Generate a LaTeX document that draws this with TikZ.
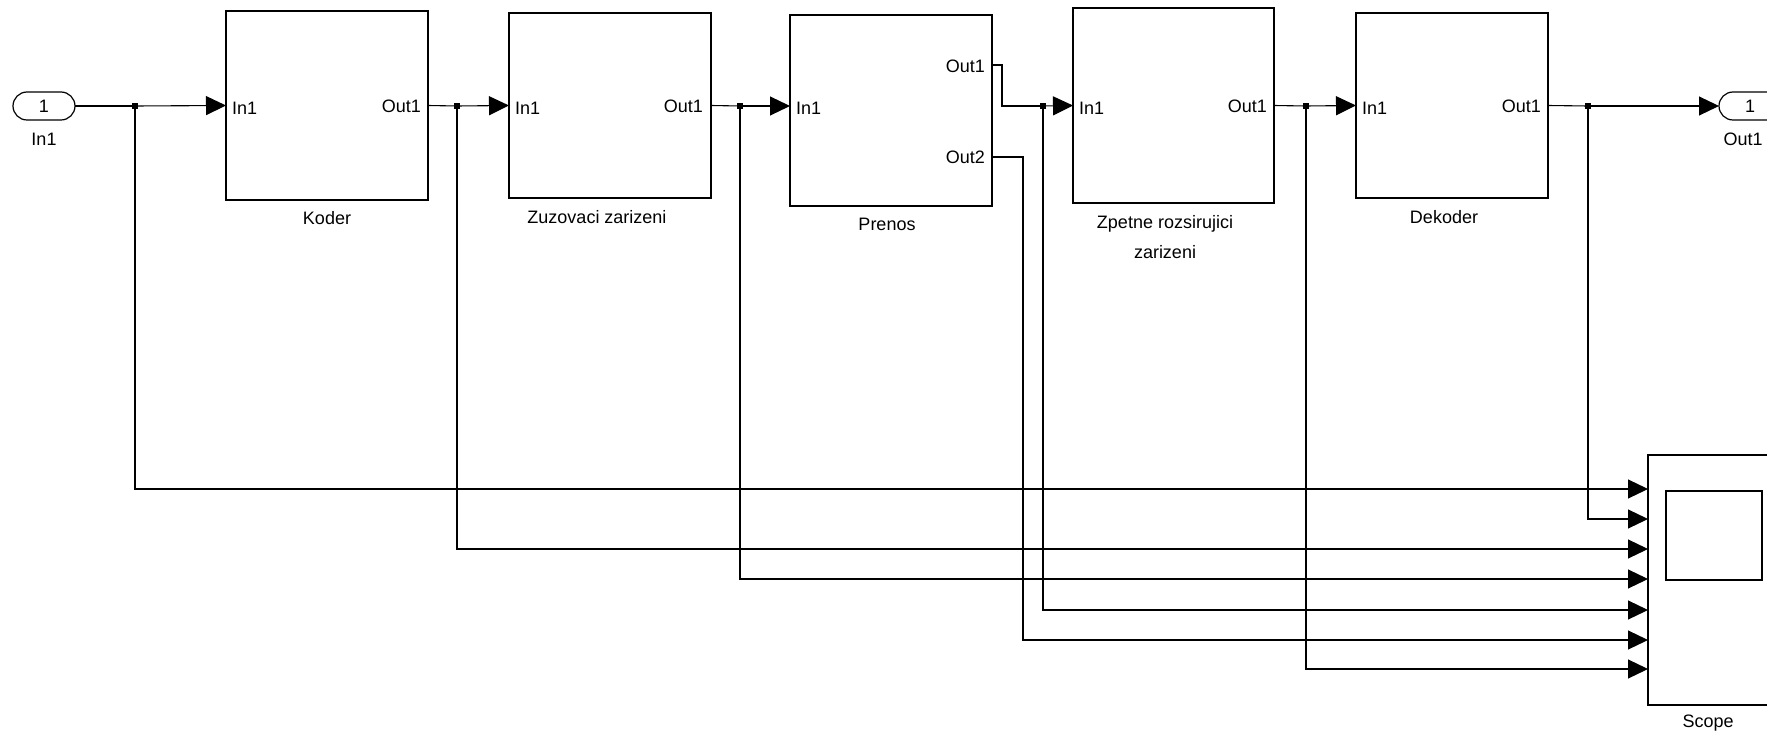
\documentclass[tikz,border=0pt]{standalone}
\usepackage{fontspec}
\setmainfont{Liberation Sans}
\usetikzlibrary{arrows.meta}
\begin{document}
\begin{tikzpicture}[x=1pt,y=-1pt,
  every node/.style={font=\fontsize{18}{25}\selectfont},
  wire/.style={line width=1.1pt},
  arr/.style={wire,-{Triangle[length=20pt,width=19pt]}},
  blk/.style={draw,line width=1.2pt,rectangle,inner sep=0pt,outer sep=0pt},
  txt/.style={inner sep=0pt},
  junc/.style={fill,rectangle,minimum size=6pt,inner sep=0pt},
  pill/.style={draw,line width=1.2pt,rounded corners=14pt,minimum width=62pt,
               minimum height=28pt,inner sep=0pt,outer sep=0pt}]
\useasboundingbox (0,0) rectangle (1767,735);
\clip (0,0) rectangle (1767,735);

% inport and outport
\node[pill] (in1) at (44,106) {1};
\node[txt] (in1lbl) at (44,139) {In1};
\node[pill] (out1) at (1750,106) {1};
\node[txt] (out1lbl) at (1743,139) {Out1};

% subsystem blocks
\node[blk,minimum width=202pt,minimum height=189pt] (koder) at (327,105.5) {};
\node[blk,minimum width=202pt,minimum height=185pt] (zuz) at (610,105.5) {};
\node[blk,minimum width=202pt,minimum height=191pt] (prenos) at (891,110.5) {};
\node[blk,minimum width=201pt,minimum height=195pt] (zpet) at (1173.5,105.5) {};
\node[blk,minimum width=192pt,minimum height=185pt] (dek) at (1452,105.5) {};

% scope block with its screen
\node[blk,minimum width=132pt,minimum height=250pt] (scope) at (1714,580) {};
\node[blk,minimum width=96pt,minimum height=89pt] (screen) at (1714,535.5) {};

% port labels inside the blocks
\node[txt,anchor=west] (koderin) at (232,108) {In1};
\node[txt,anchor=east] (koderout) at (421,106) {Out1};
\node[txt,anchor=west] (zuzin) at (515,108) {In1};
\node[txt,anchor=east] (zuzout) at (703,106) {Out1};
\node[txt,anchor=west] (prenosin) at (796,108) {In1};
\node[txt,anchor=east] (prenosout1) at (985,66) {Out1};
\node[txt,anchor=east] (prenosout2) at (985,157) {Out2};
\node[txt,anchor=west] (zpetin) at (1079,108) {In1};
\node[txt,anchor=east] (zpetout) at (1267,106) {Out1};
\node[txt,anchor=west] (dekin) at (1362,108) {In1};
\node[txt,anchor=east] (dekout) at (1541,106) {Out1};

% block names
\node[txt] (lkoder) at (327,218) {Koder};
\node[txt] (lzuz) at (597,217) {Zuzovaci zarizeni};
\node[txt] (lprenos) at (887,224) {Prenos};
\node[txt,align=center,font=\fontsize{18}{30}\selectfont] (lzpet) at (1165,237)
  {Zpetne rozsirujici\\zarizeni};
\node[txt] (ldek) at (1444,217) {Dekoder};
\node[txt] (lscope) at (1708,723) {Scope};

% branch points
\node[junc] (j1) at (135,106) {};
\node[junc] (j2) at (457,106) {};
\node[junc] (j3) at (740,106) {};
\node[junc] (j4) at (1043,106) {};
\node[junc] (j5) at (1306,106) {};
\node[junc] (j6) at (1588,106) {};

% Prenos output ports and bends
\coordinate (po1) at (992,65);
\coordinate (po2) at (992,157);
\coordinate (b1) at (1002,65);
\coordinate (b2) at (1023,157);

% scope input ports
\coordinate (s1) at (1648,489);
\coordinate (s2) at (1648,519);
\coordinate (s3) at (1648,549);
\coordinate (s4) at (1648,579);
\coordinate (s5) at (1648,610);
\coordinate (s6) at (1648,640);
\coordinate (s7) at (1648,669);

% main signal chain
\draw[wire] (in1.east) -- (j1.center);
\draw[arr] (j1.center) -- (koder.west);
\draw[wire] (koder.east) -- (j2.center);
\draw[arr] (j2.center) -- (zuz.west);
\draw[wire] (zuz.east) -- (j3.center);
\draw[arr] (j3.center) -- (prenos.west |- j3);
\draw[wire] (po1) -- (b1) |- (j4.center);
\draw[arr] (j4.center) -- (zpet.west);
\draw[wire] (zpet.east) -- (j5.center);
\draw[arr] (j5.center) -- (dek.west);
\draw[wire] (dek.east) -- (j6.center);
\draw[arr] (j6.center) -- (out1.west);

% taps into the scope
\draw[arr] (j1.center) |- (s1);
\draw[arr] (j6.center) |- (s2);
\draw[arr] (j2.center) |- (s3);
\draw[arr] (j3.center) |- (s4);
\draw[arr] (j4.center) |- (s5);
\draw[arr] (po2) -- (b2) |- (s6);
\draw[arr] (j5.center) |- (s7);
\end{tikzpicture}
\end{document}
